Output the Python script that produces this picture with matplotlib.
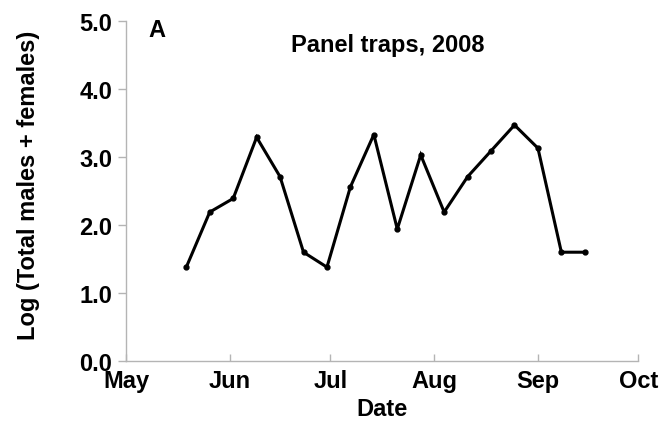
import datetime as dt
import matplotlib
matplotlib.use("Agg")
import matplotlib.pyplot as plt

plt.rcParams['font.family'] = ['Liberation Sans', 'DejaVu Sans']
plt.rcParams['font.weight'] = 'bold'
plt.rcParams['axes.labelweight'] = 'bold'

# weekly trap counts, 2008
dates = [dt.date(2008, 5, 19) + dt.timedelta(weeks=i) for i in range(18)]
log_counts = [1.38, 2.19, 2.39, 3.29, 2.71, 1.60, 1.38, 2.56, 3.33,
              1.94, 3.03, 2.19, 2.71, 3.09, 3.47, 3.13, 1.60, 1.60]
month_ticks = [dt.date(2008, m, 1) for m in range(5, 11)]
month_labels = ['May', 'Jun', 'Jul', 'Aug', 'Sep', 'Oct']
y_ticks = [0, 1, 2, 3, 4, 5]

fig = plt.figure(figsize=(6.65, 4.27), dpi=100)
ax = fig.add_axes([0.1895, 0.1522, 0.7705, 0.7963])

ax.plot(dates, log_counts, color='black', lw=2.2, marker='o', ms=3.5,
        solid_joinstyle='miter')

ax.set_xlim(month_ticks[0], month_ticks[-1])
ax.set_ylim(0, 5)
ax.set_xticks(month_ticks)
ax.set_xticklabels(month_labels)
ax.set_yticks(y_ticks)
ax.set_yticklabels([f'{v:.1f}' for v in y_ticks])

gray = '#b4b4b4'
for s in ['top', 'right']:
    ax.spines[s].set_visible(False)
for s in ['left', 'bottom']:
    ax.spines[s].set_color(gray)
    ax.spines[s].set_linewidth(1.0)
ax.tick_params(axis='x', direction='in', length=5, width=1, color=gray,
               labelsize=17, pad=6)
ax.tick_params(axis='y', direction='out', length=5.8, width=1, color=gray,
               labelsize=17, pad=4)

ax.set_xlabel('Date', fontsize=17, labelpad=3)
ax.set_ylabel('Log (Total males + females)', fontsize=17)
ax.yaxis.set_label_coords(-0.168, 0.52)

ax.text(0.043, 0.975, 'A', transform=ax.transAxes, fontsize=17,
        fontweight='bold', va='center', ha='left')
ax.text(0.51, 0.932, 'Panel traps, 2008', transform=ax.transAxes,
        fontsize=17, fontweight='bold', va='center', ha='center')

fig.savefig('out.png', dpi=100)
